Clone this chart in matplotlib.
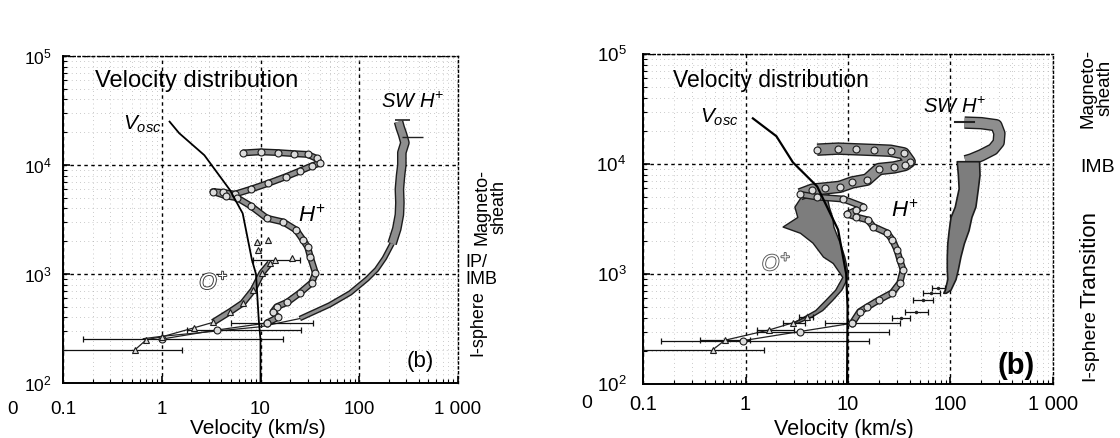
import numpy as np
import matplotlib
matplotlib.use("Agg")
import matplotlib.pyplot as plt
import matplotlib.patheffects as pe
from matplotlib.ticker import FixedLocator, LogLocator, NullFormatter

plt.rcParams['font.family'] = ['Liberation Sans', 'DejaVu Sans']
plt.rcParams['mathtext.fontset'] = 'custom'
plt.rcParams['mathtext.rm'] = 'Liberation Sans'
plt.rcParams['mathtext.it'] = 'Liberation Sans:italic'

# ---------------- data: left panel ----------------
vosc_v_L = [1.2, 1.5, 2.7, 4.9, 6.6, 8.2, 9.0, 9.6, 10, 10]
vosc_h_L = [25000, 19600, 12300, 5900, 3600, 1340, 1000, 380, 250, 100]

sw_top_v_L = [250, 260, 275, 290, 270, 270, 262, 255, 258, 255, 240, 215]
sw_top_h_L = [25000, 22000, 19000, 16000, 13000, 10000, 8000, 6000, 4500, 3500, 2600, 1900]
sw_low_v_L = [215, 180, 150, 120, 81, 50, 25]
sw_low_h_L = [1900, 1400, 1100, 900, 670, 520, 390]
sw_tail_v_L = [25, 10, 3, 1, 0.65]
sw_tail_h_L = [390, 328, 295, 268, 255]

hp_v_L = [6.6, 10, 15, 22, 30, 37, 40, 33, 25, 18, 12, 8, 5.5, 4.2, 3.3, 4.5, 5.8, 8,
          11.6, 17, 23, 27, 30, 32, 36, 33, 25, 18.6, 14.6, 13.4, 15, 11.6]
hp_h_L = [12900, 13200, 13000, 12700, 12500, 11500, 10400, 9800, 8800, 7800, 6800, 6000,
          5400, 5600, 5700, 5200, 5000, 4200, 3250, 3000, 2530, 2050, 1770, 1430, 1020,
          830, 670, 550, 500, 450, 400, 355]
hlow_v_L = [11.6, 3.6, 1.0]
hlow_h_L = [355, 306, 253]
hlow_lo_L = [5, 1.8, 0.16]
hlow_hi_L = [34, 26, 17]

op_v_L = [0.53, 0.7, 1.0, 2.1, 3.3, 4.9, 6.6, 8.4, 10.3, 12.5]
op_h_L = [200, 250, 265, 320, 360, 450, 540, 710, 1020, 1260]
opx_v_L = [21, 9.5, 9.2, 12, 14]
opx_h_L = [1400, 1660, 1970, 2050, 1340]
olow_v_L = [0.53, 14]
olow_h_L = [200, 1340]
olow_lo_L = [0.1, 8.4]
olow_hi_L = [1.6, 25]

# ---------------- data: right panel ----------------
vosc_v_R = [1.18, 2.0, 2.9, 5.0, 8.0, 9.6, 9.9, 9.8]
vosc_h_R = [26000, 17900, 10350, 6250, 2530, 1000, 500, 100]

sw_hook_v_R = [137, 200, 280, 300, 295, 260, 200, 160, 140]
sw_hook_h_R = [23800, 23500, 22500, 19000, 15700, 13600, 12000, 11000, 10600]
sw_band_h_R = [10600, 8000, 6000, 4100, 3300, 2500, 1900, 1440, 1100, 900, 720, 675]
sw_band_lo_R = [115, 118, 120, 110, 100, 96, 93, 92, 92, 93, 88, 85]
sw_band_hi_R = [190, 192, 185, 175, 160, 150, 135, 125, 118, 112, 100, 90]
sw_step_v_R = [76, 65, 54, 46, 33]
sw_step_h_R = [750, 675, 584, 454, 400]
sw_step_lo_R = [66, 54, 43, 36, 27]
sw_step_hi_R = [88, 79, 67, 60, 40]

hp_v_R = [5, 8, 12, 18, 26, 35, 40, 36, 28, 20, 15.3, 11, 8.3, 6, 4.5, 3.4, 5, 9, 14, 12,
          9.8, 12, 15.6, 17.6, 24, 27, 30, 32, 34.5, 32, 27, 20, 15.3, 13, 11]
hp_h_R = [13500, 13800, 13600, 13400, 13200, 12500, 10500, 9800, 9300, 9000, 7200, 6800,
          6200, 6000, 5850, 5300, 5000, 4800, 4100, 3800, 3500, 3300, 3100, 2700, 2370,
          2050, 1660, 1350, 1090, 830, 675, 580, 500, 455, 357]
hlow_v_R = [11, 3.4, 0.95]
hlow_h_R = [357, 300, 248]
hlow_lo_R = [6, 1.3, 0.15]
hlow_hi_R = [32, 25, 16]

ob_h_R = [6000, 5100, 4100, 3300, 2700, 2370, 1930, 1440, 1260, 1020, 940, 720, 580, 470, 410, 360]
ob_lo_R = [5.3, 3.5, 3.0, 3.2, 2.3, 3.4, 4.5, 5.7, 7.1, 8.3, 8.8, 7.5, 6.0, 4.8, 3.7, 2.9]
ob_hi_R = [7.0, 6.2, 6.5, 7.0, 7.2, 7.6, 8.3, 9.2, 9.5, 9.9, 9.9, 8.6, 7.0, 5.6, 4.4, 3.2]
op_v_R = [0.48, 0.63, 1.7, 2.9, 4.0]
op_h_R = [205, 250, 310, 360, 410]
olow_lo_R = [0.1, 0.36, 1.3, 2.3, 3.3]
olow_hi_R = [1.5, 1.1, 3.0, 3.8, 4.6]

xticks = [0.1, 1, 10, 100, 1000]
xticklabels = ['0.1', '1', '10', '100', '1 000']
yticks = [100, 1000, 10000, 100000]
yticklabels = [r'$\mathregular{10^{%d}}$' % k for k in (2, 3, 4, 5)]

GRAY = '#8e8e8e'
EDGE = '#1c1c1c'


def band(ax, v, h, lw):
    ax.plot(v, h, color=GRAY, lw=lw, solid_capstyle='butt', solid_joinstyle='round', zorder=3,
            path_effects=[pe.Stroke(linewidth=lw + 2, foreground=EDGE), pe.Normal()])


def circles(ax, v, h):
    ax.plot(v, h, 'o', ms=5, mfc='#dcdcdc', mec=EDGE, mew=0.8, zorder=5)


def triangles(ax, v, h):
    ax.plot(v, h, '^', ms=5, mfc='#dcdcdc', mec=EDGE, mew=0.8, zorder=5)


def bars(ax, v, h, lo, hi):
    v = np.array(v)
    ax.errorbar(v, h, xerr=[v - np.array(lo), np.array(hi) - v], fmt='none',
                ecolor='#111', elinewidth=0.9, capsize=2, capthick=0.9, zorder=4)


def setup(ax, fs, xpad, ypad):
    ax.set_xscale('log')
    ax.set_yscale('log')
    ax.set_xlim(0.1, 1000)
    ax.set_ylim(100, 100000)
    ax.xaxis.set_major_locator(FixedLocator(xticks))
    ax.set_xticklabels(xticklabels, fontsize=fs)
    ax.yaxis.set_major_locator(FixedLocator(yticks))
    ax.set_yticklabels(yticklabels, fontsize=fs - 1)
    for a in (ax.xaxis, ax.yaxis):
        a.set_minor_locator(LogLocator(base=10, subs=np.arange(2, 10)))
        a.set_minor_formatter(NullFormatter())
    ax.tick_params(which='both', direction='in', top=False, right=False)
    ax.tick_params(which='major', length=5, width=1.2)
    ax.tick_params(axis='x', which='major', pad=xpad)
    ax.tick_params(axis='y', which='major', pad=ypad)
    ax.tick_params(which='minor', length=3, width=0.8)
    ax.grid(which='major', color='k', ls=(0, (2.5, 2.5)), lw=1.0)
    ax.grid(which='minor', color='#9a9a9a', ls=(0, (1, 5)), lw=0.5)
    ax.set_axisbelow(True)
    for s in ('left', 'bottom'):
        ax.spines[s].set_linewidth(1.4)
    for s in ('top', 'right'):
        ax.spines[s].set_linestyle((0, (1.5, 2)))
        ax.spines[s].set_linewidth(1.0)


fig = plt.figure(figsize=(11.2, 4.38), dpi=100)
axL = fig.add_axes([63 / 1120, 55 / 438, 395 / 1120, 327 / 438])
axR = fig.add_axes([643 / 1120, 54 / 438, 410 / 1120, 330 / 438])
setup(axL, 13.5, 13, 8)
setup(axR, 14.5, 8, 12)

# ---- left panel ----
axL.plot(vosc_v_L, vosc_h_L, color='k', lw=1.3, zorder=6)
band(axL, sw_top_v_L, sw_top_h_L, 5)
band(axL, sw_low_v_L, sw_low_h_L, 2)
axL.plot(sw_tail_v_L, sw_tail_h_L, color='#222', lw=0.9, zorder=3)
axL.errorbar([270], [26000], xerr=[[40], [60]], fmt='none', ecolor='#222', elinewidth=1.2, zorder=4)
axL.errorbar([330], [18000], xerr=[[60], [110]], fmt='none', ecolor='#222', elinewidth=1.0, zorder=4)
band(axL, hp_v_L, hp_h_L, 3)
circles(axL, hp_v_L, hp_h_L)
axL.plot(hlow_v_L, hlow_h_L, color='#222', lw=0.9, zorder=3)
bars(axL, hlow_v_L, hlow_h_L, hlow_lo_L, hlow_hi_L)
circles(axL, hlow_v_L, hlow_h_L)
band(axL, op_v_L[4:], op_h_L[4:], 3)
axL.plot(op_v_L[:5], op_h_L[:5], color='#222', lw=0.9, zorder=3)
bars(axL, olow_v_L, olow_h_L, olow_lo_L, olow_hi_L)
triangles(axL, op_v_L, op_h_L)
triangles(axL, opx_v_L, opx_h_L)

tkw = dict(transform=axL.transAxes)
axL.text(0.081, 0.925, 'Velocity distribution', fontsize=17, va='center', **tkw)
axL.text(0.152, 0.79, r'$V_{osc}$', fontsize=15, va='center', **tkw)
axL.text(0.805, 0.86, r'$SW\ H^{+}$', fontsize=14.5, va='center', **tkw)
axL.text(0.595, 0.51, r'$H^{+}$', fontsize=16, va='center', **tkw)
axL.text(0.345, 0.305, r'$O^{+}$', fontsize=16, va='center', color='white',
         path_effects=[pe.withStroke(linewidth=1.3, foreground='#333')], **tkw)
axL.text(0.87, 0.065, '(b)', fontsize=16, va='center', **tkw)
fig.text(258 / 1120, 1 - 428 / 438, 'Velocity (km/s)', fontsize=15, ha='center', va='center')

fig.text(490 / 1120, 1 - 207 / 438, 'Magneto-\nsheath', rotation=90, fontsize=13,
         ha='center', va='center', linespacing=1.0)
fig.text(465 / 1120, 1 - 271 / 438, 'IP/\nIMB', fontsize=13, ha='left', va='center',
         linespacing=0.95)
fig.text(478 / 1120, 1 - 323 / 438, 'I-sphere', rotation=90, fontsize=13,
         ha='center', va='center')
fig.text(13 / 1120, 1 - 410 / 438, '0', fontsize=13.5, ha='center', va='center')

# ---- right panel ----
axR.plot(vosc_v_R, vosc_h_R, color='k', lw=1.6, zorder=6)
band(axR, sw_hook_v_R, sw_hook_h_R, 7)
axR.fill_betweenx(sw_band_h_R, sw_band_lo_R, sw_band_hi_R, color='#7d7d7d',
                  edgecolor=EDGE, lw=1.2, zorder=3)
axR.plot([110, 170], [24200, 24200], color='#222', lw=1.5, zorder=4)
bars(axR, sw_step_v_R, sw_step_h_R, sw_step_lo_R, sw_step_hi_R)
axR.plot(sw_step_v_R, sw_step_h_R, '.', color='#222', ms=3, zorder=4)

axR.fill_betweenx(ob_h_R, ob_lo_R, ob_hi_R, color='#7d7d7d', edgecolor=EDGE, lw=1.0, zorder=3)
band(axR, hp_v_R[:16], hp_h_R[:16], 7)
band(axR, hp_v_R[15:], hp_h_R[15:], 3)
circles(axR, hp_v_R, hp_h_R)
axR.plot(hlow_v_R, hlow_h_R, color='#222', lw=0.9, zorder=3)
bars(axR, hlow_v_R, hlow_h_R, hlow_lo_R, hlow_hi_R)
circles(axR, hlow_v_R, hlow_h_R)
axR.plot(op_v_R, op_h_R, color='#222', lw=0.9, zorder=3)
bars(axR, op_v_R, op_h_R, olow_lo_R, olow_hi_R)
triangles(axR, op_v_R, op_h_R)

tkw = dict(transform=axR.transAxes)
axR.text(0.073, 0.92, 'Velocity distribution', fontsize=16.5, va='center', **tkw)
axR.text(0.139, 0.808, r'$V_{osc}$', fontsize=15, va='center', **tkw)
axR.text(0.683, 0.84, r'$SW\ H^{+}$', fontsize=14.5, va='center', **tkw)
axR.text(0.605, 0.523, r'$H^{+}$', fontsize=16, va='center', **tkw)
axR.text(0.29, 0.362, r'$O^{+}$', fontsize=16, va='center', color='white',
         path_effects=[pe.withStroke(linewidth=1.3, foreground='#555')], **tkw)
axR.text(0.865, 0.055, '(b)', fontsize=21, fontweight='bold', va='center', **tkw)
fig.text(844 / 1120, 1 - 429 / 438, 'Velocity (km/s)', fontsize=15.5, ha='center', va='center')

narrow = ['Liberation Sans Narrow', 'Liberation Sans']
fig.text(1097 / 1120, 1 - 88 / 438, 'Magneto-\nsheath', rotation=90, fontsize=13.5,
         ha='center', va='center', linespacing=1.0, family=narrow)
fig.text(1098 / 1120, 1 - 167 / 438, 'IMB', fontsize=14, ha='center', va='center', family=narrow)
fig.text(1090 / 1120, 1 - 260 / 438, 'Transition', rotation=90, fontsize=16,
         ha='center', va='center', family=narrow)
fig.text(1090 / 1120, 1 - 345 / 438, 'I-sphere', rotation=90, fontsize=14,
         ha='center', va='center', family=narrow)
fig.text(587 / 1120, 1 - 404 / 438, '0', fontsize=14, ha='center', va='center')

fig.savefig('out.png', dpi=100, facecolor='white')
